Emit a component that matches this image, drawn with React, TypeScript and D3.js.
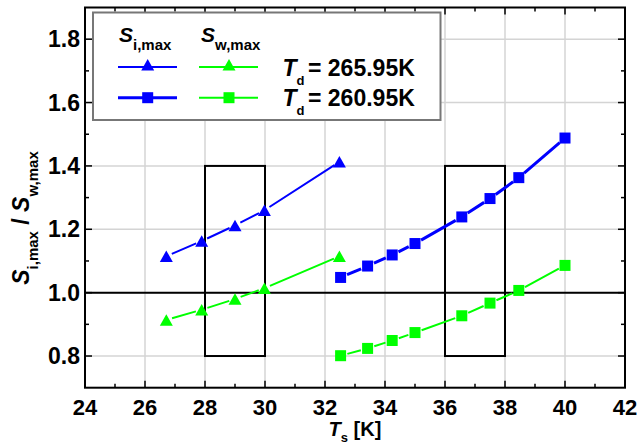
import * as d3 from 'd3'

// Td = 265.95K (triangles)
const triTs = [26.71, 27.89, 29.0, 29.98, 32.48]
const triSi = [1.115, 1.163, 1.212, 1.26, 1.413]
const triSw = [0.914, 0.946, 0.98, 1.014, 1.115]

// Td = 260.95K (squares)
const sqTs = [32.52, 33.42, 34.24, 35.0, 36.56, 37.5, 38.46, 40.0]
const sqSi = [1.048, 1.084, 1.119, 1.155, 1.239, 1.297, 1.363, 1.488]
const sqSw = [0.801, 0.824, 0.849, 0.874, 0.927, 0.967, 1.007, 1.086]

const xMajor = [24, 26, 28, 30, 32, 34, 36, 38, 40, 42]
const xMinor = [25, 27, 29, 31, 33, 35, 37, 39, 41]
const yMajor = [0.8, 1.0, 1.2, 1.4, 1.6, 1.8]
const yMinor = [0.9, 1.1, 1.3, 1.5, 1.7]

// highlighted windows [x0, x1, y0, y1]
const boxes = [
  [28, 30, 0.8, 1.4],
  [36, 38, 0.8, 1.4],
]

const BLUE = '#0000ff'
const GREEN = '#00ff00'
const FONT = 'Arial, "Liberation Sans", Helvetica, sans-serif'

const x = d3.scaleLinear().domain([24, 42]).range([85, 625])
const y = d3.scaleLinear().domain([0.7, 1.9]).range([387.7, 7.5])

type Pt = [number, number]

function segments(pts: Pt[], gap: number) {
  const out: string[] = []
  for (let i = 0; i < pts.length - 1; i++) {
    const [x0, y0] = pts[i]
    const [x1, y1] = pts[i + 1]
    const len = Math.hypot(x1 - x0, y1 - y0)
    if (len <= gap * 2) continue
    const ux = (x1 - x0) / len
    const uy = (y1 - y0) / len
    out.push(`M${x0 + ux * gap},${y0 + uy * gap}L${x1 - ux * gap},${y1 - uy * gap}`)
  }
  return out.join('')
}

function Triangle({ cx, cy, color }: { cx: number; cy: number; color: string }) {
  const w = 13
  const h = 11.5
  return (
    <path
      d={`M${cx},${cy - h / 2}L${cx + w / 2},${cy + h / 2}L${cx - w / 2},${cy + h / 2}Z`}
      fill={color}
    />
  )
}

function Square({ cx, cy, color }: { cx: number; cy: number; color: string }) {
  const s = 11
  return <rect x={cx - s / 2} y={cy - s / 2} width={s} height={s} fill={color} />
}

function Series({
  xs,
  ys,
  color,
  shape,
  lineWidth,
}: {
  xs: number[]
  ys: number[]
  color: string
  shape: 'tri' | 'sq'
  lineWidth: number
}) {
  const pts: Pt[] = xs.map((v, i) => [x(v), y(ys[i])])
  const gap = shape === 'sq' ? 7 : 6
  const Marker = shape === 'sq' ? Square : Triangle
  return (
    <g>
      <path d={segments(pts, gap)} stroke={color} strokeWidth={lineWidth} fill="none" />
      {pts.map(([px, py], i) => (
        <Marker key={i} cx={px} cy={py} color={color} />
      ))}
    </g>
  )
}

export default function App() {
  const [x0, x1] = x.range()
  const [y0, y1] = y.range()
  const tickMaj = 7
  const tickMin = 4

  return (
    <svg
      width={641}
      height={448}
      style={{ position: 'absolute', left: 0, top: 0, background: '#fff' }}
      fontFamily={FONT}
    >
      <rect width={641} height={448} fill="#fff" />

      {/* grid */}
      {xMajor.slice(1, -1).map((v) => (
        <line key={'gx' + v} x1={x(v)} x2={x(v)} y1={y1} y2={y0} stroke="#d4d4d4" strokeWidth={1.5} />
      ))}
      {yMajor.map((v) => (
        <line key={'gy' + v} x1={x0} x2={x1} y1={y(v)} y2={y(v)} stroke="#d4d4d4" strokeWidth={1.5} />
      ))}

      {/* reference line at 1.0 */}
      <line x1={x0} x2={x1} y1={y(1)} y2={y(1)} stroke="#000" strokeWidth={2} />

      {/* windows */}
      {boxes.map(([a, b, c, d], i) => (
        <rect
          key={'b' + i}
          x={x(a)}
          y={y(d)}
          width={x(b) - x(a)}
          height={y(c) - y(d)}
          fill="none"
          stroke="#000"
          strokeWidth={2}
        />
      ))}

      {/* data */}
      <Series xs={triTs} ys={triSi} color={BLUE} shape="tri" lineWidth={2} />
      <Series xs={triTs} ys={triSw} color={GREEN} shape="tri" lineWidth={2} />
      <Series xs={sqTs} ys={sqSi} color={BLUE} shape="sq" lineWidth={3} />
      <Series xs={sqTs} ys={sqSw} color={GREEN} shape="sq" lineWidth={2} />

      {/* ticks, inward on all four sides */}
      {xMajor.concat(xMinor).map((v) => {
        const len = xMajor.includes(v) ? tickMaj : tickMin
        return (
          <g key={'tx' + v} stroke="#000" strokeWidth={1.5}>
            <line x1={x(v)} x2={x(v)} y1={y0} y2={y0 - len} />
            <line x1={x(v)} x2={x(v)} y1={y1} y2={y1 + len} />
          </g>
        )
      })}
      {yMajor.concat(yMinor).map((v) => {
        const len = yMajor.includes(v) ? tickMaj : tickMin
        return (
          <g key={'ty' + v} stroke="#000" strokeWidth={1.5}>
            <line x1={x0} x2={x0 + len} y1={y(v)} y2={y(v)} />
            <line x1={x1} x2={x1 - len} y1={y(v)} y2={y(v)} />
          </g>
        )
      })}

      {/* frame */}
      <rect x={x0} y={y1} width={x1 - x0} height={y0 - y1} fill="none" stroke="#000" strokeWidth={2} />

      {/* tick labels */}
      {xMajor.map((v) => (
        <text key={'lx' + v} x={x(v)} y={415} textAnchor="middle" fontSize={22} fontWeight="bold">
          {v}
        </text>
      ))}
      {yMajor.map((v) => (
        <text key={'ly' + v} x={80} y={y(v) + 8} textAnchor="end" fontSize={23} fontWeight="bold">
          {v.toFixed(1)}
        </text>
      ))}

      {/* axis titles */}
      <text x={355} y={436} textAnchor="middle" fontSize={20} fontWeight="bold">
        <tspan fontStyle="italic">T</tspan>
        <tspan fontSize={13} dy={6}>s</tspan>
        <tspan dy={-6}> [K]</tspan>
      </text>
      <text
        transform="translate(29,218) rotate(-90)"
        textAnchor="middle"
        fontSize={23}
        fontWeight="bold"
      >
        <tspan fontStyle="italic">S</tspan>
        <tspan fontSize={15} dy={9}>i,max</tspan>
        <tspan dy={-9}> / </tspan>
        <tspan fontStyle="italic">S</tspan>
        <tspan fontSize={15} dy={9}>w,max</tspan>
      </text>

      {/* legend */}
      <g>
        <rect x={93} y={12.5} width={347.5} height={107.5} fill="#fff" stroke="#777" strokeWidth={2} />
        <text x={119} y={41.7} fontSize={21} fontWeight="bold">
          <tspan fontStyle="italic">S</tspan>
          <tspan fontSize={15} dy={8.5}>i,max</tspan>
        </text>
        <text x={201} y={41.7} fontSize={21} fontWeight="bold">
          <tspan fontStyle="italic">S</tspan>
          <tspan fontSize={15} dy={8.5}>w,max</tspan>
        </text>

        <line x1={118} x2={177} y1={67} y2={67} stroke={BLUE} strokeWidth={2} />
        <Triangle cx={147.7} cy={64.7} color={BLUE} />
        <line x1={199} x2={258} y1={67} y2={67} stroke={GREEN} strokeWidth={2} />
        <Triangle cx={229} cy={64.7} color={GREEN} />

        <line x1={118} x2={177} y1={97.7} y2={97.7} stroke={BLUE} strokeWidth={3} />
        <Square cx={147.7} cy={97.7} color={BLUE} />
        <line x1={199} x2={258} y1={97.7} y2={97.7} stroke={GREEN} strokeWidth={2} />
        <Square cx={229} cy={97.7} color={GREEN} />

        <text x={282.5} y={76} fontSize={23} fontWeight="bold">
          <tspan fontStyle="italic">T</tspan>
          <tspan fontSize={13} dy={9}>d</tspan>
          <tspan dy={-9} x={308}>= 265.95K</tspan>
        </text>
        <text x={282.5} y={106} fontSize={23} fontWeight="bold">
          <tspan fontStyle="italic">T</tspan>
          <tspan fontSize={13} dy={9}>d</tspan>
          <tspan dy={-9} x={308}>= 260.95K</tspan>
        </text>
      </g>
    </svg>
  )
}
